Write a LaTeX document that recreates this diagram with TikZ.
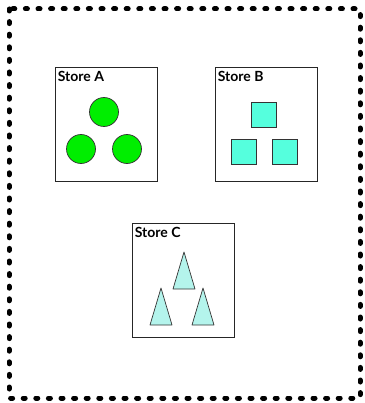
\documentclass[tikz,border=0pt]{standalone}
\usepackage{fontspec}
\setsansfont{Lato}
\usepackage{tikz}
\usetikzlibrary{positioning,shapes.geometric}
\definecolor{ShapeGreen}{HTML}{00EE00}
\definecolor{ShapeAqua}{HTML}{55FFDD}
\definecolor{ShapeTurq}{HTML}{B4F4EC}

\begin{document}
\begin{tikzpicture}[
    x=1pt,y=-1pt,
    mall/.style={line width=5pt,dash pattern=on 2pt off 10.6pt,line cap=round},
    store/.style={draw=black!85,line width=0.8pt,minimum width=102pt,minimum height=114pt,inner sep=0pt},
    storename/.style={font=\sffamily\bfseries\fontsize{14}{14}\selectfont,inner sep=0pt},
    ball/.style={circle,draw=black!80,line width=0.7pt,fill=ShapeGreen,minimum size=29pt,inner sep=0pt},
    block/.style={rectangle,draw=black!80,line width=0.9pt,fill=ShapeAqua,minimum size=25pt,inner sep=0pt},
    cone/.style={draw=black!80,line width=0.7pt,fill=ShapeTurq,line join=round}
  ]
    \useasboundingbox (0,0) rectangle (364,403);
    \draw[mall] (9,9) rectangle (360,398);

    % stores
    \node[store] (storeA) at (106,124) {};
    \node[store] (storeB) at (266,124) {};
    \node[store] (storeC) at (183,280) {};
    \node[storename,below right=4pt and 3pt of storeA.north west] (nameA) {Store A};
    \node[storename,below right=4pt and 3pt of storeB.north west] (nameB) {Store B};
    \node[storename,below right=4pt and 3pt of storeC.north west] (nameC) {Store C};

    % store A
    \node[ball] (ballA1) at (104,112) {};
    \node[ball] (ballA2) at (81,149) {};
    \node[ball] (ballA3) at (127,149) {};

    % store B
    \node[block] (blockB1) at (263.5,114.5) {};
    \node[block] (blockB2) at (243.5,151.5) {};
    \node[block] (blockB3) at (285,151.5) {};

    % store C
    \foreach \ax/\ay in {184/252, 161/288, 203/288}
      \draw[cone] (\ax-11,\ay+37) -- (\ax,\ay) -- (\ax+11,\ay+37) -- cycle;
\end{tikzpicture}
\end{document}
